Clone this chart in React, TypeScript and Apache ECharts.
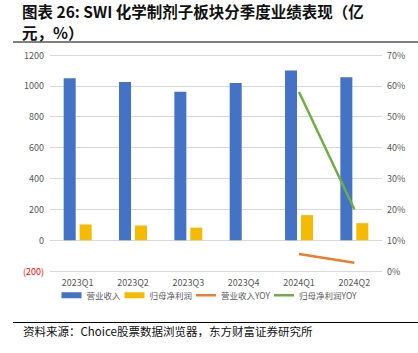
import React, { useEffect, useRef } from "react";
import * as echarts from "echarts";

const categories = ["2023Q1", "2023Q2", "2023Q3", "2023Q4", "2024Q1", "2024Q2"];
const revenue = [1050, 1025, 961, 1018, 1100, 1055];
const netProfit = [102, 95, 81, null, 162, 110];
const revenueYoy = [null, null, null, null, 5.5, 2.7];
const netProfitYoy = [null, null, null, null, 58, 20];
const seriesNames = ["营业收入", "归母净利润", "营业收入YOY", "归母净利润YOY"];
const titleLine1 = "图表 26: SWI 化学制剂子板块分季度业绩表现（亿";
const titleLine2 = "元，%）";
const sourceText = "资料来源：Choice股票数据浏览器，东方财富证券研究所";

const FONT = "'Noto Sans CJK SC', 'Noto Sans', sans-serif";
const LINE_ICON = "path://M0 0h0v6h0z M0 1.8h20v2.4H0z";

export default function App() {
  const ref = useRef<HTMLDivElement>(null);
  useEffect(() => {
    if (!ref.current) return;
    const chart = echarts.init(ref.current, null, { renderer: "svg" });
    const titleStyle = {
      fontFamily: FONT,
      fontSize: 15.5,
      lineHeight: 17,
      fontWeight: "bold" as const,
      color: "#111111",
    };
    chart.setOption({
      animation: false,
      backgroundColor: "#ffffff",
      textStyle: { fontFamily: FONT },
      title: [
        { text: titleLine1, left: 22, top: 2, padding: 0, textStyle: titleStyle },
        { text: titleLine2, left: 22, top: 23, padding: 0, textStyle: titleStyle },
      ],
      graphic: [
        {
          type: "line",
          shape: { x1: 13, y1: 42, x2: 418, y2: 42 },
          style: { stroke: "#808080", lineWidth: 2 },
        },
        {
          type: "line",
          shape: { x1: 13, y1: 322.5, x2: 418, y2: 322.5 },
          style: { stroke: "#000000", lineWidth: 1 },
        },
        {
          type: "text",
          x: 23,
          y: 331,
          style: {
            text: sourceText,
            fontFamily: FONT,
            fontSize: 11.5,
            fill: "#111111",
            verticalAlign: "middle",
          },
        },
      ],
      legend: {
        data: [
          { name: seriesNames[0], icon: "rect" },
          { name: seriesNames[1], icon: "rect" },
          { name: seriesNames[2], icon: LINE_ICON },
          { name: seriesNames[3], icon: LINE_ICON },
        ],
        left: "center",
        top: 286,
        itemWidth: 20,
        itemHeight: 6,
        itemGap: 4,
        textStyle: { fontFamily: FONT, fontSize: 8.5, color: "#595959" },
      },
      grid: { left: 50, right: 36, top: 55, bottom: 82 },
      xAxis: {
        type: "category",
        data: categories,
        axisLine: { onZero: true, onZeroAxisIndex: 0, lineStyle: { color: "#d9d9d9" } },
        axisTick: { show: false },
        axisLabel: { color: "#595959", fontSize: 9, margin: 7, fontFamily: FONT },
      },
      yAxis: [
        {
          type: "value",
          min: -200,
          max: 1200,
          interval: 200,
          axisLine: { show: false },
          axisTick: { show: false },
          splitLine: { lineStyle: { color: "#d9d9d9" } },
          axisLabel: {
            fontSize: 9,
            margin: 6,
            fontFamily: FONT,
            formatter: (v: number) => (v < 0 ? "{neg|(" + Math.abs(v) + ")}" : String(v)),
            color: "#595959",
            rich: { neg: { color: "#ff0000", fontSize: 9, fontFamily: FONT } },
          },
        },
        {
          type: "value",
          min: 0,
          max: 70,
          interval: 10,
          axisLine: { show: false },
          axisTick: { show: false },
          splitLine: { show: false },
          axisLabel: {
            fontSize: 9,
            margin: 5,
            color: "#595959",
            fontFamily: FONT,
            formatter: (v: number) => v + "%",
          },
        },
      ],
      series: [
        {
          name: seriesNames[0],
          type: "bar",
          data: revenue,
          barWidth: 12,
          barGap: "33%",
          itemStyle: { color: "#4472C4" },
        },
        {
          name: seriesNames[1],
          type: "bar",
          data: netProfit,
          barWidth: 12,
          itemStyle: { color: "#F5BB00" },
        },
        {
          name: seriesNames[2],
          type: "line",
          yAxisIndex: 1,
          data: revenueYoy,
          symbol: "none",
          lineStyle: { color: "#ED7D31", width: 2.5 },
          itemStyle: { color: "#ED7D31" },
        },
        {
          name: seriesNames[3],
          type: "line",
          yAxisIndex: 1,
          data: netProfitYoy,
          symbol: "none",
          lineStyle: { color: "#70AD47", width: 2.5 },
          itemStyle: { color: "#70AD47" },
        },
      ],
    });
    return () => chart.dispose();
  }, []);
  return (
    <div
      ref={ref}
      style={{ position: "fixed", left: 0, top: 0, width: 418, height: 353 }}
    />
  );
}
